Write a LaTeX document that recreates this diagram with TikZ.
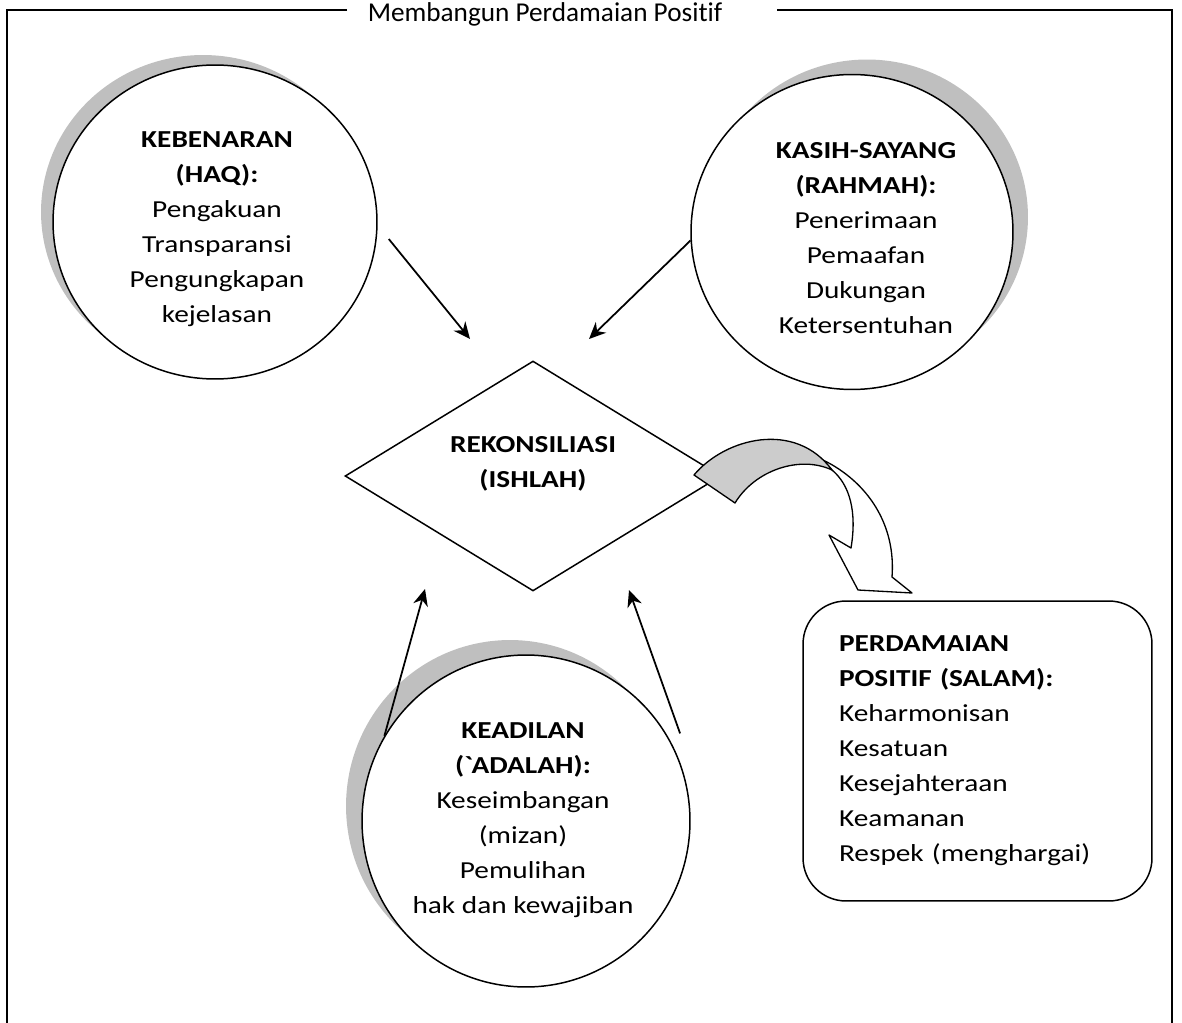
\documentclass[tikz,border=0pt]{standalone}
\usepackage{fontspec}
\setmainfont{Carlito}[FakeStretch=1.2, Ligatures=NoCommon]
\newfontfamily\titlefont{Carlito}[Ligatures=NoCommon]
\usetikzlibrary{shapes.geometric, arrows.meta, positioning, calc, shadows}

\begin{document}
\begin{tikzpicture}[
  x=0.02cm, y=-0.02cm,
  font=\fontsize{13.9}{19.9}\selectfont,
  frame/.style={line width=1.1pt},
  circ/.style={draw, ellipse, fill=white, line width=0.85pt, inner sep=0pt},
  txt/.style={align=center, inner sep=0pt, anchor=north},
  rhomb/.style={draw, diamond, fill=white, line width=0.85pt, inner sep=0pt,
                minimum width=7.52cm, minimum height=4.6cm},
  rbox/.style={draw, rounded corners=0.86cm, line width=0.85pt, inner sep=0pt,
               minimum width=6.98cm, minimum height=6cm, text width=5.54cm, align=left},
  shadeL/.style={general shadow={fill=gray!50, shadow xshift=-0.24cm, shadow yshift=0.2cm}},
  shadeR/.style={general shadow={fill=gray!50, shadow xshift=0.3cm, shadow yshift=0.3cm}},
  shadeB/.style={general shadow={fill=gray!50, shadow xshift=-0.32cm, shadow yshift=0.3cm}},
  arr/.style={-{Stealth[length=9.5pt, width=8.5pt]}, line width=1pt},
  blockarrow/.style={line width=0.75pt, line join=round},
]
\useasboundingbox (0,0) rectangle (1182,1023);

%% Frame and title
\draw[frame] (347,10) -- (7,10) -- (7,1023);
\draw[frame] (777,10) -- (1172,10) -- (1172,1023);
\node[anchor=base, inner sep=0pt, font=\titlefont\fontsize{15.5}{18}\selectfont] (title) at (545,22) {Membangun Perdamaian Positif};

%% Circles
\node[circ, shadeL, minimum width=6.48cm, minimum height=6.28cm] (haq) at (215,222) {};
\node[txt] (haqtxt) at (217,131) {\textbf{KEBENARAN}\\\textbf{(HAQ):}\\Pengakuan\\Transparansi\\Pengungkapan\\kejelasan};

\node[circ, shadeR, minimum width=6.44cm, minimum height=6.3cm] (rahmah) at (852,232) {};
\node[txt] (rahmahtxt) at (866,142) {\textbf{KASIH-SAYANG}\\\textbf{(RAHMAH):}\\Penerimaan\\Pemaafan\\Dukungan\\Ketersentuhan};

\node[circ, shadeB, minimum width=6.56cm, minimum height=6.64cm] (adalah) at (526,821) {};
\node[txt] (adalahtxt) at (523,722) {\textbf{KEADILAN}\\\textbf{(\textasciigrave ADALAH):}\\Keseimbangan\\(mizan)\\Pemulihan\\hak dan kewajiban};

%% Diamond
\node[rhomb] (ishlah) at (533,476) {};
\node[txt] (ishlahtxt) at (533,436) {\textbf{REKONSILIASI}\\\textbf{(ISHLAH)}};

%% Curved block arrow
\draw[blockarrow, fill=white] (823,460) .. controls (868,482) and (896,525) .. (892,577)
  -- (912,593) -- (858,590) -- (829,535) -- (851,548)
  .. controls (857,512) and (850,485) .. (832,470) -- cycle;
\draw[blockarrow, fill=gray!40] (694,475) .. controls (725,438) and (795,420) .. (832,470)
  .. controls (800,455) and (755,470) .. (735,503) -- cycle;

%% Result box
\node[rbox] (salam) at (977.5,751) {\textbf{PERDAMAIAN}\\\textbf{POSITIF (SALAM):}\\Keharmonisan\\Kesatuan\\Kesejahteraan\\Keamanan\\Respek (menghargai)};

%% Arrows into the diamond
\coordinate (haqin) at (470,339);
\coordinate (rahmahin) at (589,339);
\coordinate (adalahinL) at (425,589);
\coordinate (adalahinR) at (629,590);

\draw[arr] ($(haq.-6)+(12,0)$) -- (haqin);
\draw[arr] (rahmah.183) -- (rahmahin);
\draw[arr] (adalah.149) -- (adalahinL);
\draw[arr] ($(adalah.30)+(11,-5)$) -- (adalahinR);

\end{tikzpicture}
\end{document}
